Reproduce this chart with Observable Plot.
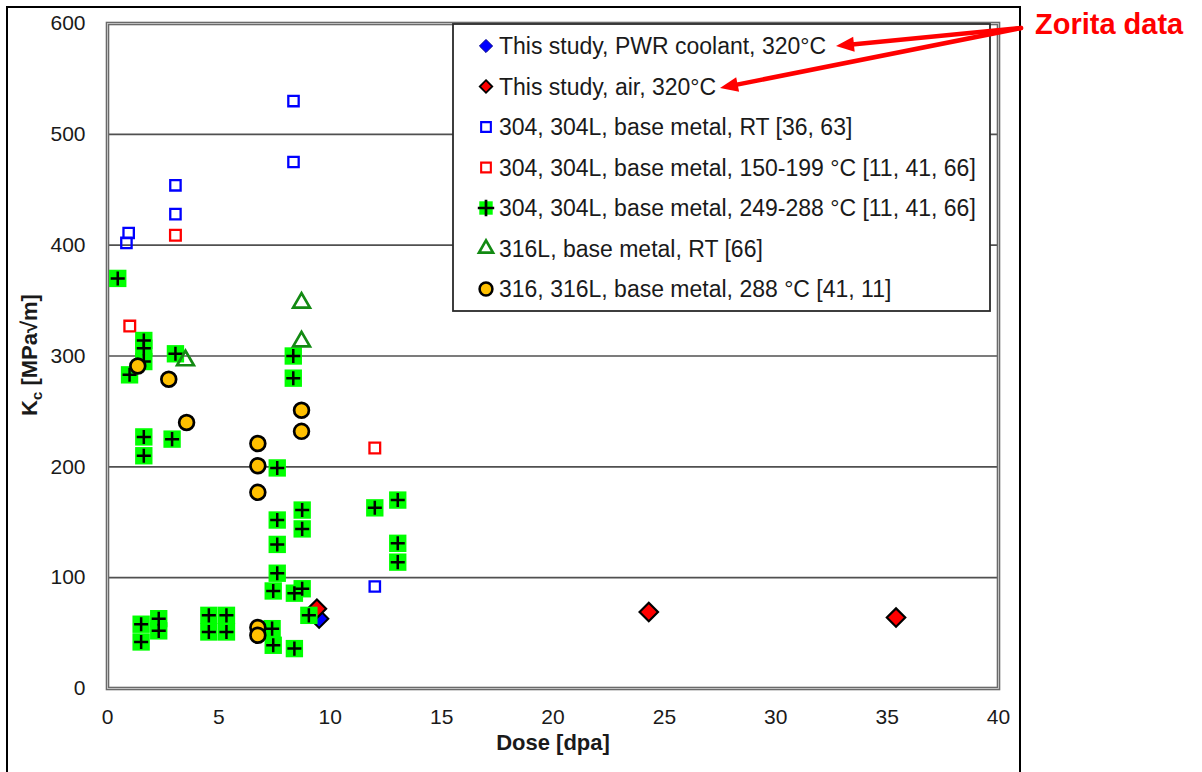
<!DOCTYPE html>
<html><head><meta charset="utf-8">
<script src="https://cdn.jsdelivr.net/npm/d3@7"></script>
<script src="https://cdn.jsdelivr.net/npm/@observablehq/plot@0.6"></script>
<style>
body{margin:0;background:#fff;}
#chart{position:relative;width:1202px;height:772px;overflow:hidden;background:#fff;}
</style></head><body><div id="chart"></div>
<script>
// ---------- data ----------
const pwrDose = [9.5];
const pwrKc   = [63];
const airDose = [9.4, 24.3, 35.4];
const airKc   = [72, 69, 64];
const rt304Dose = [0.85, 0.95, 3.05, 3.05, 8.35, 8.35, 12.0];
const rt304Kc   = [402, 411, 454, 428, 530, 475, 92];
const mid304Dose = [1.0, 3.05, 12.0];
const mid304Kc   = [327, 409, 217];
const hot304Dose = [0.46, 0.99, 1.63, 1.63, 1.63, 3.05, 1.63, 1.63, 2.9,
  7.62, 7.62, 7.62, 7.62, 7.44, 7.39, 7.44,
  8.74, 8.74, 8.39, 8.74, 9.04, 8.39, 8.34, 8.34,
  12.0, 13.03, 13.03, 13.03,
  1.51, 2.3, 2.3, 1.51, 4.55, 5.34, 4.55, 5.34];
const hot304Kc = [370, 283, 314, 307, 295, 302, 227, 210, 225,
  199, 152, 130, 104, 88, 54, 39,
  161, 144, 86, 90, 66, 36, 300, 280,
  163, 170, 131, 114,
  58, 63, 52, 42, 66, 66, 51, 51];
const rt316LDose = [8.71, 8.71, 3.5];
const rt316LKc   = [348, 313, 296];
const hot316Dose = [1.36, 2.75, 3.55, 6.75, 6.75, 6.75, 8.71, 8.71, 6.75, 6.75];
const hot316Kc   = [291, 279, 240, 221, 201, 177, 251, 232, 55, 48];

const xTicks = [0, 5, 10, 15, 20, 25, 30, 35, 40];
const yTicks = [0, 100, 200, 300, 400, 500, 600];
const gridY  = [100, 200, 300, 400, 500];
const legendLabels = [
  "This study, PWR coolant, 320°C",
  "This study, air, 320°C",
  "304, 304L, base metal, RT [36, 63]",
  "304, 304L, base metal, 150-199 °C [11, 41, 66]",
  "304, 304L, base metal, 249-288 °C [11, 41, 66]",
  "316L, base metal, RT [66]",
  "316, 316L, base metal, 288 °C [41, 11]"
];
const xLabel = "Dose [dpa]";
const annotation = "Zorita data";

const zip = (xs, ys) => xs.map((x, i) => ({dose: x, kc: ys[i]}));
const pwr = zip(pwrDose, pwrKc), air = zip(airDose, airKc);
const rt304 = zip(rt304Dose, rt304Kc), mid304 = zip(mid304Dose, mid304Kc);
const hot304 = zip(hot304Dose, hot304Kc), rt316L = zip(rt316LDose, rt316LKc);
const hot316 = zip(hot316Dose, hot316Kc);

const FONT = "'Liberation Sans', Arial, sans-serif";
const BLUE = "#0000ff", RED = "#ff0000", GREEN = "#00ff00", DKGREEN = "#138a13", ORANGE = "#ffc000";

const svgNode = Plot.plot({
  width: 1202, height: 772,
  marginLeft: 107, marginRight: 204, marginTop: 23, marginBottom: 84,
  style: {fontFamily: FONT, fontSize: "20px", color: "#1a1a1a", background: "transparent", overflow: "visible"},
  x: {domain: [0, 40]},
  y: {domain: [0, 600]},
  marks: [
    Plot.ruleY(gridY, {stroke: "#505050", strokeWidth: 1.6}),
    Plot.frame({stroke: "#6a6a6a", strokeWidth: 3.6}),
    Plot.frame({stroke: "#c8c8c8", strokeWidth: 0.9}),
    Plot.axisX({ticks: xTicks, tickSize: 0, tickPadding: 21, fontSize: 21, label: null}),
    Plot.axisY({ticks: yTicks, tickSize: 0, tickPadding: 22, fontSize: 21, label: null}),
    Plot.text([xLabel], {frameAnchor: "bottom", dy: 61, dx: 0, text: d => d, fontWeight: "bold", fontSize: 22, fill: "#1a1a1a"}),
    Plot.dot(pwr, {x: "dose", y: "kc", symbol: "diamond2", r: 8.3, fill: BLUE, stroke: "#000", strokeWidth: 2}),
    Plot.dot(air, {x: "dose", y: "kc", symbol: "diamond2", r: 8.3, fill: RED, stroke: "#000", strokeWidth: 2.2}),
    Plot.dot(rt304, {x: "dose", y: "kc", symbol: "square2", r: 6.6, stroke: BLUE, strokeWidth: 2.3, fill: "none"}),
    Plot.dot(mid304, {x: "dose", y: "kc", symbol: "square2", r: 6.8, stroke: RED, strokeWidth: 2.3, fill: "none"}),
    Plot.dot(hot304, {x: "dose", y: "kc", symbol: "square", r: 9.8, fill: GREEN, stroke: "none"}),
    Plot.dot(hot304, {x: "dose", y: "kc", symbol: "plus", r: 4.6, stroke: "#000", strokeWidth: 2.5}),
    Plot.dot(rt316L, {x: "dose", y: "kc", symbol: "triangle2", r: 8, stroke: DKGREEN, strokeWidth: 2.7, fill: "none"}),
    Plot.dot(hot316, {x: "dose", y: "kc", symbol: "circle", r: 7.4, fill: ORANGE, stroke: "#000", strokeWidth: 2.7})
  ]
});
document.getElementById("chart").appendChild(svgNode);

const svg = d3.select(svgNode);

// y axis label with subscript
const yl = svg.append("text")
  .attr("transform", "translate(37,355) rotate(-90)")
  .attr("text-anchor", "middle")
  .attr("font-family", FONT).attr("font-weight", "bold").attr("font-size", 22).attr("fill", "#1a1a1a");
yl.append("tspan").text("K");
yl.append("tspan").attr("font-size", 15).attr("dy", 5).text("c");
yl.append("tspan").attr("dy", -5).text(" [MPa√m]");

// legend
const lg = svg.append("g");
lg.append("rect").attr("x", 453).attr("y", 24).attr("width", 537).attr("height", 287)
  .attr("fill", "#fff").attr("stroke", "#2a2a2a").attr("stroke-width", 1.8);
const lgStyles = [
  {type: d3.symbolDiamond2, size: 110, fill: BLUE, stroke: "#00008a", sw: 1},
  {type: d3.symbolDiamond2, size: 100, fill: RED, stroke: "#000", sw: 1.8},
  {type: d3.symbolSquare2, size: 120, fill: "none", stroke: BLUE, sw: 2.1},
  {type: d3.symbolSquare2, size: 120, fill: "none", stroke: RED, sw: 2.1},
  {type: d3.symbolSquare, size: 180, fill: GREEN, stroke: "none", sw: 0, plus: true},
  {type: d3.symbolTriangle2, size: 140, fill: "none", stroke: DKGREEN, sw: 2.7},
  {type: d3.symbolCircle, size: 130, fill: ORANGE, stroke: "#000", sw: 2.5}
];
legendLabels.forEach((lab, i) => {
  const cy = 46 + i * 40.5;
  const s = lgStyles[i];
  lg.append("path").attr("d", d3.symbol(s.type, s.size)())
    .attr("transform", `translate(486,${cy})`)
    .attr("fill", s.fill).attr("stroke", s.stroke).attr("stroke-width", s.sw);
  if (s.plus) {
    lg.append("path").attr("d", d3.symbol(d3.symbolPlus, 90)())
      .attr("transform", `translate(486,${cy})`)
      .attr("fill", "none").attr("stroke", "#000").attr("stroke-width", 2.7);
  }
  lg.append("text").attr("x", 499).attr("y", cy).attr("dy", "0.36em")
    .attr("text-anchor", "start")
    .attr("font-family", FONT).attr("font-size", 23).attr("fill", "#1a1a1a").text(lab);
});

// outer frame
svg.append("rect").attr("x", 7).attr("y", 7).attr("width", 1013).attr("height", 800)
  .attr("fill", "none").attr("stroke", "#000").attr("stroke-width", 2);

// annotation
svg.append("text").attr("x", 1035).attr("y", 34).attr("text-anchor", "start")
  .attr("font-family", FONT).attr("font-weight", "bold").attr("font-size", 29).attr("fill", RED)
  .text(annotation);

const arrowFrom = [1021, 28];
const arrowTips = [[836, 46], [720, 88]];
arrowTips.forEach(([tx, ty]) => {
  const [fx, fy] = arrowFrom;
  const dx = tx - fx, dy = ty - fy, L = Math.hypot(dx, dy);
  const ux = dx / L, uy = dy / L, px = -uy, py = ux;
  const hl = 18, hw = 7.5;
  const bx = tx - ux * hl, by = ty - uy * hl;
  svg.append("line").attr("x1", fx).attr("y1", fy).attr("x2", bx + ux * 2).attr("y2", by + uy * 2)
    .attr("stroke", RED).attr("stroke-width", 4.5).attr("stroke-linecap", "round");
  svg.append("path")
    .attr("d", `M${tx},${ty}L${bx + px * hw},${by + py * hw}L${bx - px * hw},${by - py * hw}Z`)
    .attr("fill", RED);
});
</script></body></html>
